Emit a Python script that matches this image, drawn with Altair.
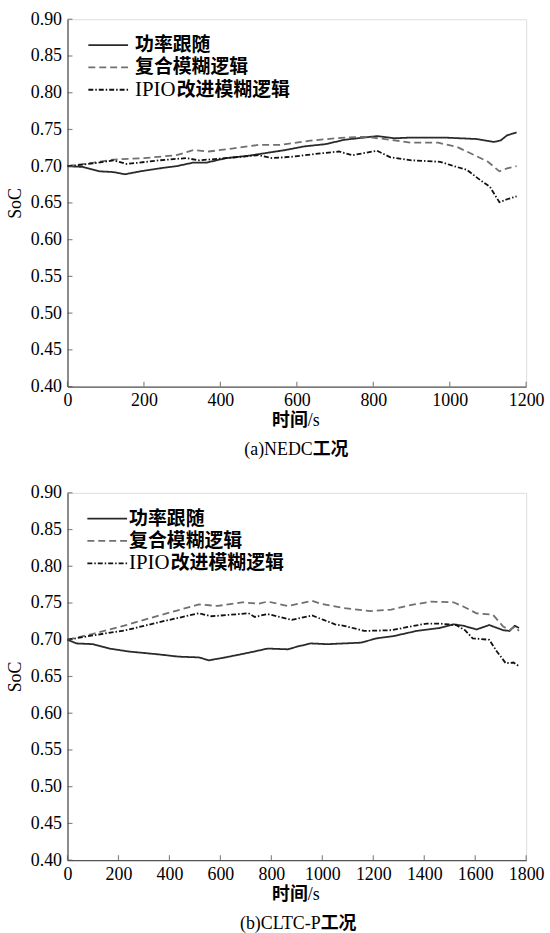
import altair as alt
import pandas as pd

SERIES = ["功率跟随", "复合模糊逻辑", "IPIO改进模糊逻辑"]
COLORS = ["#2a2a2a", "#707070", "#111111"]
DASHES = [[1, 0], [7, 4], [5, 2, 1.5, 2]]

# ---- (a) NEDC ----
NEDC_T_POWER = [0, 40, 85, 120, 150, 190, 240, 285, 330, 365, 415, 470, 520, 570, 620, 675, 725, 810, 855, 900, 985, 1070, 1115, 1133, 1150, 1175]
NEDC_POWER = [0.700, 0.699, 0.693, 0.692, 0.689, 0.693, 0.697, 0.700, 0.705, 0.705, 0.711, 0.714, 0.718, 0.722, 0.727, 0.730, 0.736, 0.741, 0.738, 0.739, 0.739, 0.737, 0.733, 0.735, 0.742, 0.746]
NEDC_T_FUZZY = [0, 70, 120, 200, 285, 330, 370, 430, 500, 555, 640, 725, 780, 845, 900, 970, 1020, 1065, 1100, 1130, 1150, 1175]
NEDC_FUZZY = [0.700, 0.705, 0.709, 0.711, 0.715, 0.722, 0.720, 0.724, 0.729, 0.729, 0.735, 0.739, 0.740, 0.736, 0.732, 0.732, 0.726, 0.715, 0.706, 0.693, 0.697, 0.700]
NEDC_T_IPIO = [0, 70, 120, 155, 240, 310, 345, 415, 500, 535, 590, 655, 710, 745, 810, 845, 900, 975, 1005, 1045, 1080, 1105, 1130, 1150, 1175]
NEDC_IPIO = [0.700, 0.704, 0.708, 0.703, 0.708, 0.711, 0.708, 0.711, 0.715, 0.711, 0.713, 0.717, 0.720, 0.715, 0.721, 0.712, 0.708, 0.706, 0.701, 0.695, 0.681, 0.672, 0.651, 0.655, 0.659]

# ---- (b) CLTC-P ----
CLTC_T_POWER = [0, 35, 100, 165, 240, 360, 435, 515, 555, 620, 720, 785, 865, 905, 955, 1020, 1085, 1150, 1215, 1280, 1370, 1460, 1515, 1555, 1605, 1655, 1710, 1735, 1755, 1772]
CLTC_POWER = [0.700, 0.695, 0.694, 0.688, 0.684, 0.680, 0.677, 0.676, 0.672, 0.676, 0.683, 0.688, 0.687, 0.691, 0.695, 0.694, 0.695, 0.696, 0.702, 0.705, 0.712, 0.716, 0.721, 0.719, 0.714, 0.720, 0.713, 0.712, 0.719, 0.716]
CLTC_T_FUZZY = [0, 100, 230, 360, 515, 590, 685, 750, 785, 865, 960, 995, 1085, 1190, 1270, 1345, 1425, 1515, 1555, 1605, 1670, 1710, 1735, 1755, 1772]
CLTC_FUZZY = [0.700, 0.708, 0.720, 0.733, 0.748, 0.746, 0.751, 0.749, 0.752, 0.746, 0.753, 0.749, 0.743, 0.739, 0.741, 0.747, 0.752, 0.751, 0.745, 0.736, 0.734, 0.718, 0.713, 0.718, 0.712]
CLTC_T_IPIO = [0, 100, 230, 360, 515, 565, 710, 735, 785, 880, 960, 1005, 1050, 1085, 1165, 1270, 1345, 1410, 1460, 1525, 1560, 1590, 1655, 1685, 1720, 1750, 1772]
CLTC_IPIO = [0.700, 0.706, 0.713, 0.724, 0.736, 0.732, 0.736, 0.731, 0.735, 0.727, 0.733, 0.727, 0.721, 0.719, 0.712, 0.713, 0.718, 0.722, 0.722, 0.720, 0.713, 0.702, 0.700, 0.684, 0.668, 0.669, 0.664]

Y_TICKS = [0.40, 0.45, 0.50, 0.55, 0.60, 0.65, 0.70, 0.75, 0.80, 0.85, 0.90]
X_TICKS_A = [0, 200, 400, 600, 800, 1000, 1200]
X_TICKS_B = [0, 200, 400, 600, 800, 1000, 1200, 1400, 1600, 1800]

W, H = 462, 370
SERIF = "Times New Roman, Liberation Serif, serif"
CJK = "Noto Sans CJK SC"
AXC = "#555555"


def long_df(parts):
    rows = []
    for name, ts, vs in parts:
        for t, v in zip(ts, vs):
            rows.append({"t": t, "soc": v, "series": name})
    return pd.DataFrame(rows)


def text_layer(txt, x, y, align, font, weight, size=18):
    return alt.Chart(pd.DataFrame({"a": [0]})).mark_text(
        text=txt, align=align, baseline="middle", font=font,
        fontWeight=weight, fontSize=size, color="black"
    ).encode(x=alt.value(x), y=alt.value(y))


def panel(df, xmax, xticks, cap_latin, cap_split, legend_text_x, legend_line):
    xs = alt.Scale(domain=[0, xmax], nice=False, zero=False)
    ys = alt.Scale(domain=[0.40, 0.90], nice=False, zero=False)
    xaxis = alt.Axis(
        values=xticks, format="d", ticks=False, grid=False, title=None,
        labelFont=SERIF, labelFontSize=18, labelColor="black",
        labelPadding=5, domainColor=AXC, domainWidth=1.3,
        labelFlush=False, labelOverlap=False)
    yaxis = alt.Axis(
        values=Y_TICKS, format=".2f", ticks=False, grid=False,
        title="SoC", titleFont=SERIF, titleFontSize=18,
        titleFontWeight="normal", titleColor="black", titlePadding=6,
        labelFont=SERIF, labelFontSize=18, labelColor="black",
        labelPadding=6, domainColor=AXC, domainWidth=1.3,
        labelFlush=False, labelOverlap=False)
    lines = alt.Chart(df).mark_line(strokeWidth=1.8).encode(
        x=alt.X("t:Q", scale=xs, axis=xaxis),
        y=alt.Y("soc:Q", scale=ys, axis=yaxis),
        color=alt.Color("series:N", scale=alt.Scale(domain=SERIES, range=COLORS), legend=None),
        strokeDash=alt.StrokeDash("series:N", scale=alt.Scale(domain=SERIES, range=DASHES), legend=None),
    )
    xt = alt.Chart(pd.DataFrame({"t": xticks})).mark_tick(
        orient="vertical", size=5, thickness=1.2, color=AXC
    ).encode(x=alt.X("t:Q", scale=xs, axis=xaxis), y=alt.value(H - 2.5))
    yt = alt.Chart(pd.DataFrame({"soc": Y_TICKS})).mark_tick(
        orient="horizontal", size=5, thickness=1.2, color=AXC
    ).encode(y=alt.Y("soc:Q", scale=ys, axis=yaxis), x=alt.value(2.5))

    layers = [lines, xt, yt]
    # legend (drawn inside the plot)
    rows_y = [26, 48.5, 71]
    lx0, lx1 = legend_line
    for i, name in enumerate(SERIES):
        layers.append(alt.Chart(pd.DataFrame({"a": [0]})).mark_rule(
            color=COLORS[i], strokeDash=DASHES[i], strokeWidth=1.8
        ).encode(x=alt.value(lx0), x2=alt.value(lx1), y=alt.value(rows_y[i])))
    layers.append(text_layer("功率跟随", legend_text_x, rows_y[0], "left", CJK, "bold", 19))
    layers.append(text_layer("复合模糊逻辑", legend_text_x, rows_y[1], "left", CJK, "bold", 19))
    layers.append(text_layer("IPIO", legend_text_x, rows_y[2], "left", SERIF, "normal", 21))
    layers.append(text_layer("改进模糊逻辑", legend_text_x + 42, rows_y[2], "left", CJK, "bold", 19))

    # x-axis title: 时间/s
    cx = W / 2
    layers.append(text_layer("时间", cx + 11, H + 35, "right", CJK, "bold"))
    layers.append(text_layer("/s", cx + 11, H + 35, "left", SERIF, "normal"))
    # caption
    layers.append(text_layer(cap_latin, cx + cap_split, H + 64, "right", SERIF, "normal"))
    layers.append(text_layer("工况", cx + cap_split, H + 64, "left", CJK, "bold"))

    return alt.layer(*layers).properties(width=W, height=H)


df_a = long_df([(SERIES[0], NEDC_T_POWER, NEDC_POWER),
                (SERIES[1], NEDC_T_FUZZY, NEDC_FUZZY),
                (SERIES[2], NEDC_T_IPIO, NEDC_IPIO)])
df_b = long_df([(SERIES[0], CLTC_T_POWER, CLTC_POWER),
                (SERIES[1], CLTC_T_FUZZY, CLTC_FUZZY),
                (SERIES[2], CLTC_T_IPIO, CLTC_IPIO)])

top = panel(df_a, 1200, X_TICKS_A, "(a)NEDC", 16, 68, (21, 61))
bottom = panel(df_b, 1800, X_TICKS_B, "(b)CLTC-P", 24, 62, (20, 60))

chart = alt.vconcat(top, bottom, spacing=23).properties(
    padding={"top": 6, "left": 6, "right": 5, "bottom": 0}
).configure_view(stroke=None).configure(background="white")

chart.save("out.html", embed_options={"renderer": "svg", "actions": False})
